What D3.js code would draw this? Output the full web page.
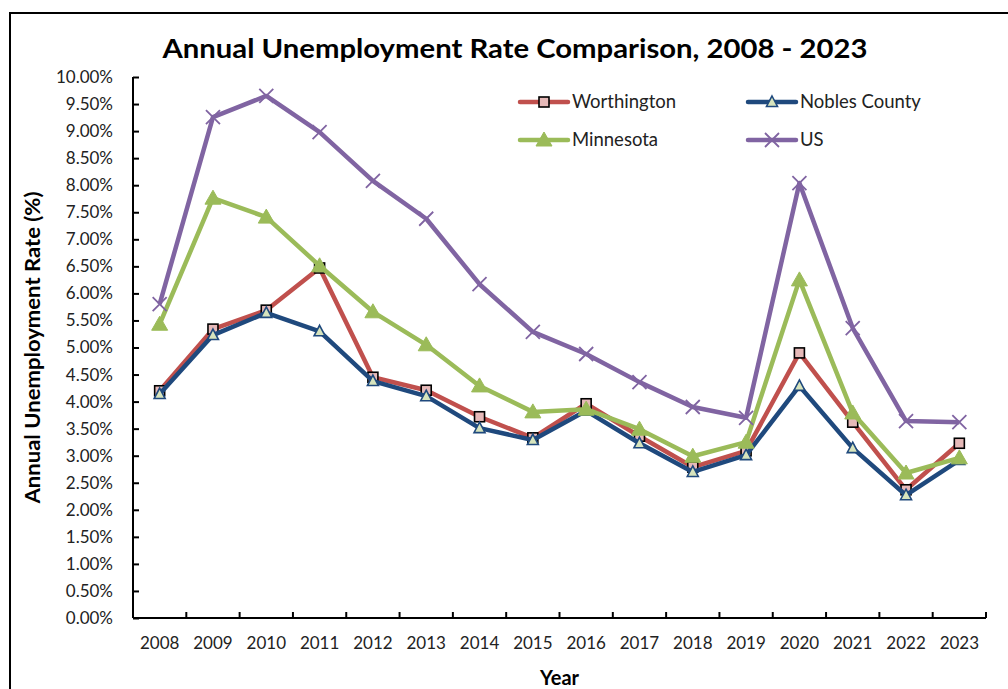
<!DOCTYPE html>
<html><head><meta charset="utf-8">
<script src="https://cdn.jsdelivr.net/npm/d3@7/dist/d3.min.js"></script>
<style>body{margin:0;background:#fff}svg{display:block}</style>
</head><body><svg id="c" width="1008" height="689"></svg>
<script>
const years = ["2008","2009","2010","2011","2012","2013","2014","2015","2016","2017","2018","2019","2020","2021","2022","2023"];
const worthington = [4.20,5.34,5.69,6.47,4.45,4.21,3.72,3.33,3.96,3.36,2.79,3.09,4.90,3.62,2.37,3.23];
const nobles = [4.14,5.23,5.64,5.30,4.38,4.10,3.51,3.29,3.83,3.23,2.70,3.01,4.29,3.14,2.27,2.92];
const minnesota = [5.43,7.76,7.41,6.51,5.66,5.05,4.29,3.81,3.86,3.49,2.99,3.25,6.25,3.79,2.68,2.96];
const us = [5.80,9.26,9.65,8.98,8.08,7.38,6.17,5.29,4.88,4.36,3.90,3.70,8.04,5.36,3.64,3.62];
const yTicks = d3.range(0, 10.001, 0.5);

const series = [
  {name:"Worthington", values:worthington, color:"#C0504D", marker:"square", fill:"#E6B9B8", stroke:"#000"},
  {name:"Nobles County", values:nobles, color:"#1F497D", marker:"triangle", fill:"#D7E4BD", stroke:"#1F497D"},
  {name:"Minnesota", values:minnesota, color:"#9BBB59", marker:"triangleBig", fill:"#9BBB59", stroke:"#9BBB59"},
  {name:"US", values:us, color:"#8064A2", marker:"x", fill:"none", stroke:"#8064A2"}
];

const font = "Lato, 'Open Sans', sans-serif";
const svg = d3.select("#c");
const L = 133, R = 986, T = 77, B = 618;
const x = d3.scaleBand().domain(years).range([L, R]);
const y = d3.scaleLinear().domain([0, 10]).range([B, T]);

// outer border
svg.append("path").attr("d", `M10,689 L10,13 L1008,13`).attr("fill","none").attr("stroke","#000").attr("stroke-width",2);

// title
svg.append("text").attr("x", 515).attr("y", 58).attr("text-anchor","middle")
  .attr("font-family", font).attr("font-weight","bold").attr("font-size", 27).attr("fill","#000")
  .attr("textLength", 705).attr("lengthAdjust","spacingAndGlyphs")
  .text("Annual Unemployment Rate Comparison, 2008 - 2023");

// y axis
const yAxis = svg.append("g").attr("transform", `translate(${L},0)`)
  .call(d3.axisLeft(y).tickValues(yTicks).tickSize(-6).tickPadding(20).tickFormat(d => d.toFixed(2) + "%"));
yAxis.select(".domain").attr("stroke","#000").attr("stroke-width",2).attr("d", `M0,${T}H0V${B}`);
yAxis.selectAll(".tick line").attr("stroke","#000").attr("stroke-width",2);
yAxis.selectAll(".tick text").attr("font-family", font).attr("font-size", 17).attr("fill","#222");

// x axis
const xAxis = svg.append("g").attr("transform", `translate(0,${B})`)
  .call(d3.axisBottom(x).tickSize(0).tickPadding(19));
xAxis.select(".domain").attr("stroke","#000").attr("stroke-width",2).attr("d", `M${L},0H${R}`);
xAxis.selectAll(".tick text").attr("font-family", font).attr("font-size", 17).attr("fill","#222").attr("dy","0.71em");
const bounds = years.map(d => x(d)).concat([R]).slice(1);
xAxis.selectAll(".bnd").data(bounds).enter().append("line")
  .attr("x1", d => d).attr("x2", d => d).attr("y1", 0).attr("y2", -6)
  .attr("stroke","#000").attr("stroke-width",2);

// axis titles
svg.append("text").attr("transform", `translate(40,${(T+B)/2}) rotate(-90)`).attr("text-anchor","middle")
  .attr("font-family", font).attr("font-weight","bold").attr("font-size", 20)
  .attr("textLength", 312).attr("lengthAdjust","spacingAndGlyphs").text("Annual Unemployment Rate (%)");
svg.append("text").attr("x", (L+R)/2).attr("y", 685).attr("text-anchor","middle")
  .attr("font-family", font).attr("font-weight","bold").attr("font-size", 20).text("Year");

function drawMarker(g, s, cx, cy) {
  if (s.marker === "square") {
    g.append("rect").attr("x", cx-5).attr("y", cy-5).attr("width",10).attr("height",10)
      .attr("fill", s.fill).attr("stroke", s.stroke).attr("stroke-width",1.6);
  } else if (s.marker === "triangle") {
    g.append("path").attr("d", `M${cx},${cy-6}L${cx+5.5},${cy+4.5}L${cx-5.5},${cy+4.5}Z`)
      .attr("fill", s.fill).attr("stroke", s.stroke).attr("stroke-width",1.6);
  } else if (s.marker === "triangleBig") {
    g.append("path").attr("d", `M${cx},${cy-8}L${cx+8},${cy+6}L${cx-8},${cy+6}Z`)
      .attr("fill", s.fill).attr("stroke", s.stroke).attr("stroke-width",1);
  } else {
    g.append("path").attr("d", `M${cx-7},${cy-7}L${cx+7},${cy+7}M${cx+7},${cy-7}L${cx-7},${cy+7}`)
      .attr("stroke", s.stroke).attr("stroke-width",1.8);
  }
}

const cx = d => x(d) + x.bandwidth()/2;
const line = d3.line().x(d => cx(d[0])).y(d => y(d[1]));
series.forEach(s => {
  const g = svg.append("g");
  g.append("path").datum(years.map((yr,i) => [yr, s.values[i]]))
    .attr("d", line).attr("fill","none").attr("stroke", s.color).attr("stroke-width",4.5).attr("stroke-linejoin","round");
  years.forEach((yr,i) => drawMarker(g, s, cx(yr), y(s.values[i])));
});

// legend
const leg = [
  {s:series[0], x:520, y:102}, {s:series[1], x:748, y:102},
  {s:series[2], x:520, y:140}, {s:series[3], x:748, y:140}
];
leg.forEach(l => {
  const g = svg.append("g");
  g.append("line").attr("x1", l.x).attr("x2", l.x+48).attr("y1", l.y).attr("y2", l.y)
    .attr("stroke", l.s.color).attr("stroke-width",4.5).attr("stroke-linecap","round");
  drawMarker(g, l.s, l.x+24, l.y);
  g.append("text").attr("x", l.x+52).attr("y", l.y).attr("dy","0.35em")
    .attr("font-family", font).attr("font-size", 18.5).attr("fill","#222").text(l.s.name);
});
</script></body></html>
